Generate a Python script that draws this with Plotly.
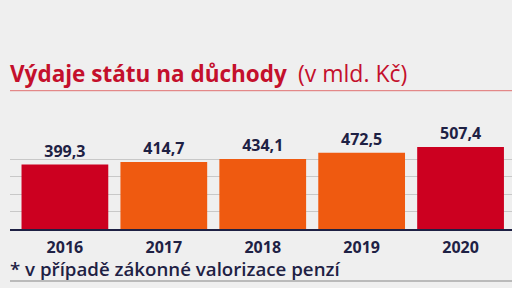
import plotly.graph_objects as go

years = ["2016", "2017", "2018", "2019", "2020"]
values = [399.3, 414.7, 434.1, 472.5, 507.4]
bar_colors = ["#cc0020", "#ef5a10", "#ef5a10", "#ef5a10", "#cc0020"]
labels = [f"{v:.1f}".replace(".", ",") for v in values]

NAVY = "#1e2144"
RED = "#c4102c"
FONT = "Open Sans"

T, B, L, R = 141, 59, 10, 0

fig = go.Figure()
fig.add_trace(go.Bar(
    x=list(range(len(years))), y=values,
    marker=dict(color=bar_colors, line=dict(width=0)),
    width=0.877,
    text=labels, textposition="outside", cliponaxis=False,
    textfont=dict(family=FONT, size=16, color=NAVY, weight="bold"),
))

fig.update_layout(
    width=512, height=288,
    margin=dict(l=L, r=R, t=T, b=B),
    paper_bgcolor="#efefef", plot_bgcolor="#efefef",
    showlegend=False,
    font=dict(family=FONT, color=NAVY),
    xaxis=dict(
        range=[-0.555, 4.52],
        tickmode="array", tickvals=list(range(len(years))), ticktext=years,
        tickfont=dict(family=FONT, size=16, color=NAVY, weight="bold"),
        showgrid=False, zeroline=False,
        showline=True, linecolor=NAVY, linewidth=2,
        ticks="", ticklabelstandoff=3,
    ),
    yaxis=dict(
        range=[0, 545], dtick=108, tick0=0,
        showgrid=True, gridcolor="#c8c8c8", gridwidth=1,
        showticklabels=False, zeroline=False, showline=False, ticks="",
    ),
)

def py(ypix):
    return (288 - B - ypix) / (288 - T - B)

def px(xpix):
    return (xpix - L) / (512 - L - R)

fig.add_annotation(
    xref="paper", yref="paper", x=px(8), y=py(73), xanchor="left", yanchor="middle",
    text="<b>Výdaje státu na důchody</b>",
    showarrow=False, font=dict(family=FONT, size=22.5, color=RED),
)
fig.add_annotation(
    xref="paper", yref="paper", x=px(296), y=py(73), xanchor="left", yanchor="middle",
    text="(v mld. Kč)",
    showarrow=False, font=dict(family=FONT, size=23, color=RED, weight=500),
)
fig.add_annotation(
    xref="paper", yref="paper", x=px(8), y=py(268), xanchor="left", yanchor="middle",
    text="* v případě zákonné valorizace penzí",
    showarrow=False, font=dict(family=FONT, size=18.7, color=NAVY, weight=600),
)
fig.add_shape(type="line", xref="paper", yref="paper",
              x0=px(10), x1=px(512), y0=py(90.7), y1=py(90.7),
              line=dict(color="#e07070", width=1))
fig.add_shape(type="line", xref="paper", yref="paper",
              x0=px(10), x1=px(512), y0=py(281), y1=py(281),
              line=dict(color="#a8a8a8", width=1.5))

fig.write_html("out.html")
